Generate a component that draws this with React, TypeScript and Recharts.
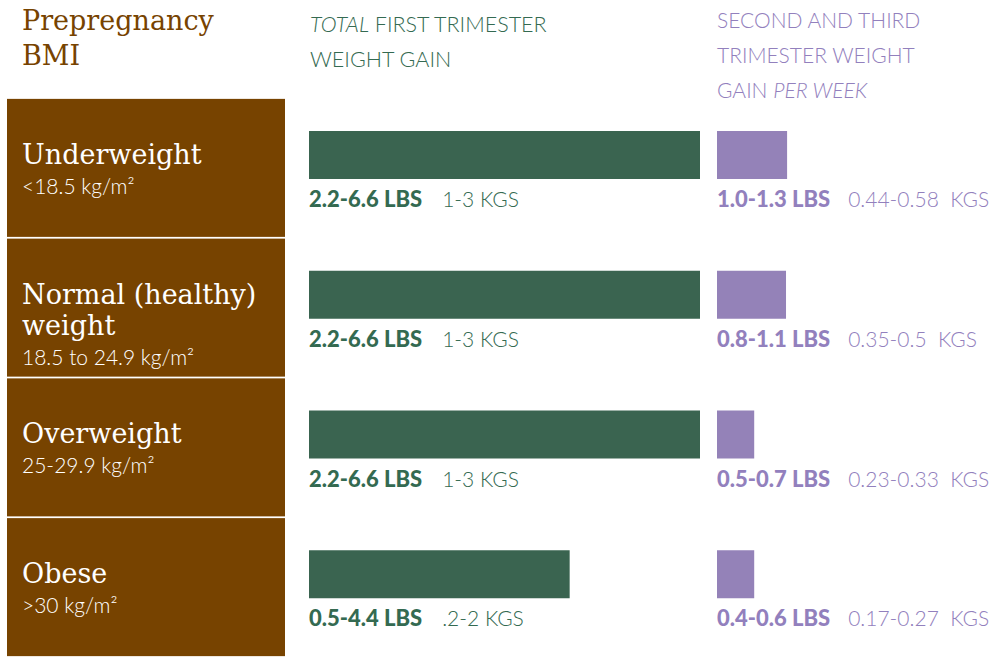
import React from 'react';
import { BarChart, Bar, XAxis, YAxis, LabelList } from 'recharts';

// ---- data ----
const categories = ['Underweight', 'Normal (healthy) weight', 'Overweight', 'Obese'];
const bmiRanges = ['<18.5 kg/m²', '18.5 to 24.9 kg/m²', '25-29.9 kg/m²', '>30 kg/m²'];
const firstTrimesterMaxLbs = [6.6, 6.6, 6.6, 4.4];
const firstTrimesterLbs = ['2.2-6.6 LBS', '2.2-6.6 LBS', '2.2-6.6 LBS', '0.5-4.4 LBS'];
const firstTrimesterKgs = ['1-3 KGS', '1-3 KGS', '1-3 KGS', '.2-2 KGS'];
const weeklyBarLbs = [1.3, 1.28, 0.69, 0.69];
const weeklyLbs = ['1.0-1.3 LBS', '0.8-1.1 LBS', '0.5-0.7 LBS', '0.4-0.6 LBS'];
const weeklyKgs = ['0.44-0.58', '0.35-0.5', '0.23-0.33', '0.17-0.27'];

const firstData = categories.map((c, i) => ({ bmi: c, value: firstTrimesterMaxLbs[i], lbs: firstTrimesterLbs[i], kgs: firstTrimesterKgs[i] }));
const weeklyData = categories.map((c, i) => ({ bmi: c, value: weeklyBarLbs[i], lbs: weeklyLbs[i], kgs: weeklyKgs[i] + '  KGS' }));

const BROWN = '#774300';
const GREEN = '#3a6450';
const GREEN_TXT = '#346a51';
const PURPLE = '#9482b8';
const PURPLE_TXT = '#9280bd';
const SLAB = '"DejaVu Serif", serif';
const SANS = 'Lato, "Open Sans", sans-serif';

const PanelTick = (props: any) => {
  const { y, payload } = props;
  const name: string = payload.value;
  const idx = categories.indexOf(name);
  const sp = name.lastIndexOf(' ');
  const lines = name.length > 16 ? [name.slice(0, sp), name.slice(sp + 1)] : [name];
  return (
    <g>
      <rect x={7} y={y - 56} width={278} height={138} fill={BROWN} />
      {lines.map((l, i) => (
        <text key={i} x={22} y={y + 9 + i * 31} fill="#ffffff" fontFamily={SLAB} fontSize={27}>
          {l}
        </text>
      ))}
      <text x={22} y={y + 9 + lines.length * 31 - 1} fill="#ffffff" fontFamily={SANS} fontWeight={300} fontSize={21}>
        {bmiRanges[idx]}
      </text>
    </g>
  );
};

const makeLabel = (color: string, offset: number, gap: number, rows: any[]) => (p: any) => {
  const { x, y, height, index } = p;
  const row = rows[index] || {};
  return (
    <text x={x} y={y + height + offset} fontFamily={SANS} fill={color} style={{ whiteSpace: 'pre' }}>
      <tspan fontWeight={900} fontSize={22}>{row.lbs}</tspan>
      <tspan dx={gap} fontWeight={300} fontSize={21}>{row.kgs}</tspan>
    </text>
  );
};

export default function App() {
  return (
    <div style={{ position: 'relative', width: 992, height: 659, background: '#fff', overflow: 'hidden' }}>
      <style>{`body{margin:0}`}</style>
      <svg width={992} height={110} style={{ position: 'absolute', left: 0, top: 0 }}>
        <text x={22} y={30} fill={BROWN} fontFamily={SLAB} fontSize={27}>Prepregnancy</text>
        <text x={22} y={65} fill={BROWN} fontFamily={SLAB} fontSize={27}>BMI</text>
        <text x={310} y={32} fill={GREEN_TXT} fontFamily={SANS} fontWeight={300} fontSize={21.5}>
          <tspan fontStyle="italic">TOTAL</tspan> FIRST TRIMESTER
        </text>
        <text x={310} y={67} fill={GREEN_TXT} fontFamily={SANS} fontWeight={300} fontSize={21.5}>WEIGHT GAIN</text>
        <text x={717} y={28} fill={PURPLE_TXT} fontFamily={SANS} fontWeight={300} fontSize={21}>SECOND AND THIRD</text>
        <text x={717} y={63} fill={PURPLE_TXT} fontFamily={SANS} fontWeight={300} fontSize={21}>TRIMESTER WEIGHT</text>
        <text x={717} y={98} fill={PURPLE_TXT} fontFamily={SANS} fontWeight={300} fontSize={21}>
          GAIN <tspan fontStyle="italic">PER WEEK</tspan>
        </text>
      </svg>

      <div style={{ position: 'absolute', left: 0, top: 0 }}>
        <BarChart width={700} height={659} data={firstData} layout="vertical" margin={{ top: 85, right: 0, bottom: 15, left: 0 }}>
          <XAxis type="number" domain={[0, 6.6]} hide />
          <YAxis
            type="category"
            dataKey="bmi"
            width={309}
            axisLine={false}
            tickLine={false}
            interval={0}
            tick={(p: any) => <PanelTick {...p} />}
          />
          <Bar dataKey="value" fill={GREEN} barSize={48} isAnimationActive={false}>
            <LabelList dataKey="lbs" content={makeLabel(GREEN_TXT, 28, 20, firstData)} />
          </Bar>
        </BarChart>
      </div>

      <div style={{ position: 'absolute', left: 717, top: 0 }}>
        <BarChart width={275} height={659} data={weeklyData} layout="vertical" margin={{ top: 85, right: 0, bottom: 15, left: 0 }}>
          <XAxis type="number" domain={[0, 5.1]} hide />
          <YAxis type="category" dataKey="bmi" hide />
          <Bar dataKey="value" fill={PURPLE} barSize={48} isAnimationActive={false}>
            <LabelList dataKey="lbs" content={makeLabel(PURPLE_TXT, 28, 18, weeklyData)} />
          </Bar>
        </BarChart>
      </div>
    </div>
  );
}
